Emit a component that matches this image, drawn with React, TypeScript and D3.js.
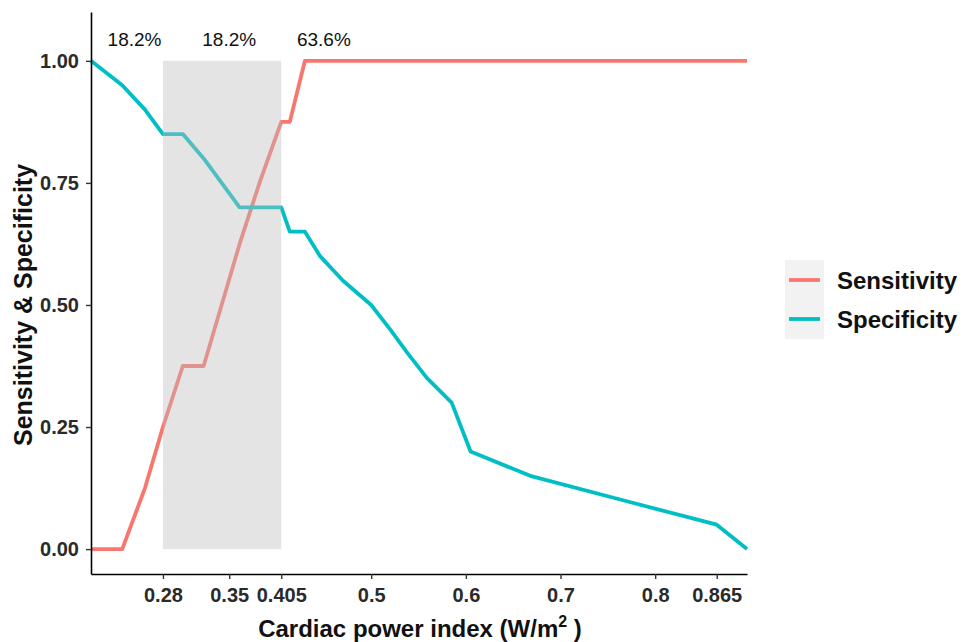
import React, { useEffect, useRef } from 'react';
import * as d3 from 'd3';

// cutoffs of cardiac power index and the matching sensitivity / specificity
const cutoffs = [0.204, 0.237, 0.261, 0.28, 0.301, 0.323, 0.342, 0.361, 0.382, 0.405, 0.414, 0.43, 0.446, 0.47, 0.5, 0.52, 0.539, 0.559, 0.585, 0.605, 0.668, 0.766, 0.865, 0.897];
const sensitivity = [0, 0, 0.125, 0.25, 0.375, 0.375, 0.5, 0.625, 0.75, 0.875, 0.875, 1, 1, 1, 1, 1, 1, 1, 1, 1, 1, 1, 1, 1];
const specificity = [1, 0.95, 0.9, 0.85, 0.85, 0.8, 0.75, 0.7, 0.7, 0.7, 0.65, 0.65, 0.6, 0.55, 0.5, 0.45, 0.4, 0.35, 0.3, 0.2, 0.15, 0.1, 0.05, 0];

const xTicks = [0.28, 0.35, 0.405, 0.5, 0.6, 0.7, 0.8, 0.865];
const yTicks = [0, 0.25, 0.5, 0.75, 1];

const bandStart = 0.28;
const bandEnd = 0.405;
const pctLabels = ['18.2%', '18.2%', '63.6%'];
const pctX = [0.25, 0.35, 0.45];

const seriesNames = ['Sensitivity', 'Specificity'];
const seriesColors = ['#F8766D', '#00BFC4'];

const App = () => {
    const svgRef = useRef<SVGSVGElement>(null);

    useEffect(() => {
        const width = 963;
        const height = 642;
        const font = '"Liberation Sans", Arial, sans-serif';

        const svg = d3.select(svgRef.current)
            .attr('width', width)
            .attr('height', height)
            .style('font-family', font);
        svg.selectAll('*').remove();

        const x = d3.scaleLinear().domain([0.204, 0.897]).range([91, 747]);
        const y = d3.scaleLinear().domain([-0.051, 1.1]).range([574, 12]);

        const line = d3.line<number>()
            .x((d, i) => x(cutoffs[i]))
            .y(d => y(d));

        [sensitivity, specificity].forEach((vals, k) => {
            svg.append('path')
                .attr('d', line(vals))
                .attr('fill', 'none')
                .attr('stroke', seriesColors[k])
                .attr('stroke-width', 3.8)
                .attr('stroke-linejoin', 'round');
        });

        // grey band over the lines
        svg.append('rect')
            .attr('x', x(bandStart))
            .attr('y', y(1))
            .attr('width', x(bandEnd) - x(bandStart))
            .attr('height', y(0) - y(1))
            .attr('fill', '#bebebe')
            .attr('opacity', 0.41);

        svg.selectAll('text.pct')
            .data(pctLabels)
            .enter()
            .append('text')
            .attr('class', 'pct')
            .attr('x', (d, i) => x(pctX[i]))
            .attr('y', y(1.045))
            .attr('dy', '0.35em')
            .attr('text-anchor', 'middle')
            .style('font-size', '19px')
            .style('fill', '#111')
            .text(d => d);

        // axes
        const xAxis = svg.append('g')
            .attr('transform', `translate(0,${y.range()[0]})`)
            .call(d3.axisBottom(x).tickValues(xTicks).tickFormat(d => String(d)).tickSize(5).tickSizeOuter(0));
        const yAxis = svg.append('g')
            .attr('transform', `translate(${x.range()[0]},0)`)
            .call(d3.axisLeft(y).tickValues(yTicks).tickFormat(d3.format('.2f')).tickSize(5).tickSizeOuter(0));

        [xAxis, yAxis].forEach(g => {
            g.select('.domain').attr('stroke', '#000').attr('stroke-width', 1.6);
            g.selectAll('.tick line').attr('stroke', '#333').attr('stroke-width', 1.4);
            g.selectAll('.tick text')
                .style('font-family', font)
                .style('font-size', '20px')
                .style('font-weight', 'bold')
                .style('fill', '#2a2a2a');
        });
        xAxis.selectAll('.tick text').attr('y', 10).attr('dy', '0.9em');
        yAxis.selectAll('.tick text').attr('x', -12);

        // axis titles
        const xt = svg.append('text')
            .attr('x', 420)
            .attr('y', 637)
            .attr('text-anchor', 'middle')
            .style('font-size', '24px')
            .style('font-weight', 'bold')
            .style('fill', '#111');
        xt.append('tspan').text('Cardiac power index (W/m');
        xt.append('tspan').attr('dy', -10).style('font-size', '16px').text('2');
        xt.append('tspan').attr('dy', 10).text(' )');

        svg.append('text')
            .attr('transform', `translate(32,${y(0.5)}) rotate(-90)`)
            .attr('text-anchor', 'middle')
            .style('font-size', '25px')
            .style('font-weight', 'bold')
            .style('fill', '#111')
            .text('Sensitivity & Specificity');

        // legend
        const legend = svg.append('g').attr('transform', 'translate(785,260)');
        legend.append('rect')
            .attr('width', 39)
            .attr('height', 79)
            .attr('fill', '#f2f2f2');
        seriesNames.forEach((name, i) => {
            const cy = 20 + i * 39;
            legend.append('line')
                .attr('x1', 4)
                .attr('x2', 35)
                .attr('y1', cy)
                .attr('y2', cy)
                .attr('stroke', seriesColors[i])
                .attr('stroke-width', 3.8);
            legend.append('text')
                .attr('x', 52)
                .attr('y', cy)
                .attr('dy', '0.36em')
                .style('font-size', '24px')
                .style('font-weight', 'bold')
                .style('fill', '#111')
                .text(name);
        });
    });

    return (
        <svg ref={svgRef} style={{ position: 'absolute', left: 0, top: 0, background: '#fff' }}></svg>
    );
};

export default App;
